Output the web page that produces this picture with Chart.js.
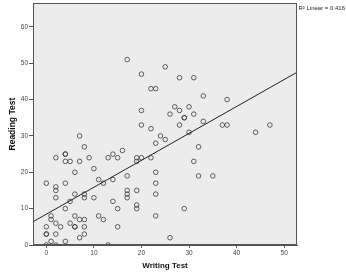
<!DOCTYPE html>
<html><head><meta charset="utf-8">
<script src="https://cdn.jsdelivr.net/npm/chart.js@4.4.1/dist/chart.umd.min.js"></script>
<style>html,body{margin:0;padding:0;background:#fff}#wrap{width:346px;height:277px}</style>
</head><body><div id="wrap"><canvas id="c" width="346" height="277"></canvas></div>
<script>
const writingScores = [7,8,4,4,2,4,5,7,9,13,14,15,6,10,0,4,2,2,11,12,14,2,6,5,8,8,10,14,15,4,1,1,2,3,0,0,0,2,6,5,7,8,6,6,8,7,8,1,4,0,2,13,15,11,12,
24,25,30,23,32,31,32,35,16,19,19,20,22,20,22,17,23,23,23,17,17,17,19,19,19,23,29,26,
17,20,25,28,31,22,23,33,38,20,27,28,30,26,29,29,31,28,33,37,38,44,47];
const readingScores = [30,27,25,25,24,23,23,23,24,24,25,24,20,21,17,17,16,15,18,17,18,13,14,12,14,13,13,12,10,10,8,7,6,5,5,3,3,3,8,6,7,7,5,5,5,2,3,1,1,0,0,0,5,8,7,
30,29,31,28,27,23,19,19,26,24,23,24,24,33,32,19,20,17,14,15,14,13,15,11,10,8,10,2,
51,47,49,46,46,43,43,41,40,37,38,37,38,36,35,35,36,33,34,33,33,31,33];
const fitWriting = [-2.8, 52.7];
const fitReading = [6.4, 47.5];
const xTicks = [0,10,20,30,40,50];
const yTicks = [0,10,20,30,40,50,60];
const xTitle = 'Writing Test';
const yTitle = 'Reading Test';
const fitLabel = 'R² Linear = 0.416';

const pts = writingScores.map((x,i)=>({x:x, y:readingScores[i]}));
const fitPts = fitWriting.map((x,i)=>({x:x, y:fitReading[i]}));

const framePlugin = {
  id:'frame',
  beforeDatasetsDraw(chart){
    const {ctx, chartArea:a} = chart;
    ctx.save();
    ctx.fillStyle = '#ececec';
    ctx.fillRect(a.left, a.top, a.right-a.left, a.bottom-a.top);
    ctx.restore();
  },
  afterDraw(chart){
    const {ctx, chartArea:a} = chart;
    ctx.save();
    ctx.strokeStyle = '#555';
    ctx.lineWidth = 1;
    ctx.strokeRect(Math.round(a.left)+0.5, Math.round(a.top)+0.5, Math.round(a.right-a.left)-1, Math.round(a.bottom-a.top)-1);
    ctx.fillStyle = '#222';
    ctx.font = '6px "Liberation Sans", Arial, sans-serif';
    ctx.textBaseline = 'middle';
    ctx.textAlign = 'left';
    ctx.fillText(fitLabel, a.right + 1.5, a.top + 5.5);
    ctx.restore();
  }
};

new Chart(document.getElementById('c'), {
  type:'scatter',
  data:{datasets:[
    {data:pts, pointRadius:2.3, pointHoverRadius:2.3, borderWidth:0.9, borderColor:'rgba(60,60,60,0.9)', backgroundColor:'rgba(0,0,0,0)', order:2},
    {data:fitPts, showLine:true, pointRadius:0, borderColor:'#222', borderWidth:1, fill:false, order:1}
  ]},
  options:{
    responsive:false, animation:false, devicePixelRatio:1,
    layout:{padding:{top:3,right:49,left:0,bottom:0}},
    plugins:{legend:{display:false}, tooltip:{enabled:false}},
    scales:{
      x:{type:'linear', min:-2.8, max:52.7,
        afterBuildTicks(s){ s.ticks = xTicks.map(v=>({value:v})); },
        afterFit(s){ s.height = 32; s.paddingLeft = 0; s.paddingRight = 0; },
        grid:{drawOnChartArea:false, tickLength:3, tickColor:'#555', color:'#555'},
        border:{color:'#555'},
        ticks:{font:{size:6.5, family:'"Liberation Sans", Arial, sans-serif'}, color:'#444', padding:1, maxRotation:0},
        title:{display:true, text:xTitle, font:{size:8, weight:'bold', family:'"Liberation Sans", Arial, sans-serif'}, color:'#111', padding:{top:0,bottom:6}}
      },
      y:{type:'linear', min:0, max:66.5,
        afterBuildTicks(s){ s.ticks = yTicks.map(v=>({value:v})); },
        afterFit(s){ s.width = 33; s.paddingTop = 0; s.paddingBottom = 0; },
        grid:{drawOnChartArea:false, tickLength:4, tickColor:'#555', color:'#555'},
        border:{color:'#555'},
        ticks:{font:{size:6.5, family:'"Liberation Sans", Arial, sans-serif'}, color:'#444', padding:1},
        title:{display:true, text:yTitle, font:{size:8.5, weight:'bold', family:'"Liberation Sans", Arial, sans-serif'}, color:'#111', padding:{top:8,bottom:0}}
      }
    }
  },
  plugins:[framePlugin]
});
</script></body></html>
